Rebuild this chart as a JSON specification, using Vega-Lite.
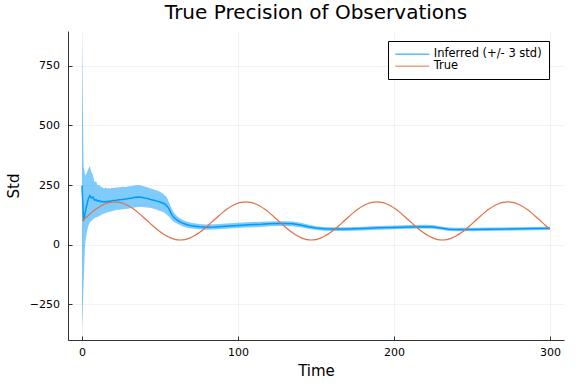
{
  "$schema": "https://vega.github.io/schema/vega-lite/v6.json",
  "width": 496,
  "height": 309,
  "autosize": {"type": "none"},
  "padding": {"left": 68, "top": 31, "right": 12, "bottom": 44},
  "background": "white",
  "title": {
    "text": "True Precision of Observations",
    "anchor": "middle",
    "frame": "group",
    "font": "DejaVu Sans",
    "fontSize": 20,
    "fontWeight": "normal",
    "color": "#000",
    "baseline": "bottom",
    "offset": 8,
    "dy": 20
  },
  "datasets": {
    "inferred": [
      {"t": 0, "mean": 248, "lo": -362, "hi": 858},
      {"t": 1, "mean": 100, "lo": -160, "hi": 330},
      {"t": 2, "mean": 135, "lo": 5, "hi": 290},
      {"t": 3, "mean": 165, "lo": 50, "hi": 300},
      {"t": 4, "mean": 192, "lo": 78, "hi": 318},
      {"t": 5, "mean": 206, "lo": 95, "hi": 330},
      {"t": 6, "mean": 196, "lo": 100, "hi": 305},
      {"t": 7, "mean": 200, "lo": 106, "hi": 292},
      {"t": 8, "mean": 187, "lo": 112, "hi": 262},
      {"t": 9, "mean": 189, "lo": 115, "hi": 266},
      {"t": 10, "mean": 183, "lo": 117, "hi": 250},
      {"t": 11, "mean": 185, "lo": 121, "hi": 252},
      {"t": 12, "mean": 180, "lo": 124, "hi": 243},
      {"t": 13, "mean": 182, "lo": 128, "hi": 241},
      {"t": 14, "mean": 179, "lo": 130, "hi": 236},
      {"t": 15, "mean": 181, "lo": 132, "hi": 240},
      {"t": 16, "mean": 180, "lo": 135, "hi": 236},
      {"t": 17, "mean": 183, "lo": 137, "hi": 238},
      {"t": 18, "mean": 182, "lo": 139, "hi": 235},
      {"t": 19, "mean": 185, "lo": 141, "hi": 239},
      {"t": 20, "mean": 186, "lo": 143, "hi": 238},
      {"t": 22, "mean": 187, "lo": 146, "hi": 240},
      {"t": 24, "mean": 189, "lo": 147, "hi": 241},
      {"t": 26, "mean": 190, "lo": 149, "hi": 243},
      {"t": 28, "mean": 192, "lo": 150, "hi": 242},
      {"t": 30, "mean": 194, "lo": 152, "hi": 245},
      {"t": 32, "mean": 196, "lo": 154, "hi": 246},
      {"t": 34, "mean": 199, "lo": 156, "hi": 250},
      {"t": 36, "mean": 200, "lo": 158, "hi": 251},
      {"t": 38, "mean": 199, "lo": 158, "hi": 249},
      {"t": 40, "mean": 196, "lo": 157, "hi": 244},
      {"t": 42, "mean": 194, "lo": 156, "hi": 241},
      {"t": 44, "mean": 190, "lo": 154, "hi": 236},
      {"t": 46, "mean": 187, "lo": 151, "hi": 232},
      {"t": 48, "mean": 183, "lo": 147, "hi": 228},
      {"t": 50, "mean": 179, "lo": 142, "hi": 222},
      {"t": 52, "mean": 174, "lo": 137, "hi": 214},
      {"t": 53, "mean": 171, "lo": 133, "hi": 208},
      {"t": 54, "mean": 166, "lo": 128, "hi": 202},
      {"t": 55, "mean": 158, "lo": 122, "hi": 190},
      {"t": 56, "mean": 147, "lo": 116, "hi": 174},
      {"t": 57, "mean": 133, "lo": 108, "hi": 158},
      {"t": 58, "mean": 122, "lo": 101, "hi": 145},
      {"t": 59, "mean": 114, "lo": 96, "hi": 134},
      {"t": 60, "mean": 108, "lo": 92, "hi": 126},
      {"t": 62, "mean": 99, "lo": 85, "hi": 114},
      {"t": 64, "mean": 92, "lo": 79, "hi": 106},
      {"t": 66, "mean": 87, "lo": 74, "hi": 100},
      {"t": 68, "mean": 83, "lo": 70, "hi": 96},
      {"t": 70, "mean": 80, "lo": 68, "hi": 92},
      {"t": 75, "mean": 76, "lo": 65, "hi": 87},
      {"t": 80, "mean": 74, "lo": 63, "hi": 85},
      {"t": 85, "mean": 75, "lo": 64, "hi": 86},
      {"t": 90, "mean": 77, "lo": 66, "hi": 88},
      {"t": 95, "mean": 79, "lo": 68, "hi": 90},
      {"t": 100, "mean": 81, "lo": 70, "hi": 92},
      {"t": 105, "mean": 83, "lo": 72, "hi": 94},
      {"t": 110, "mean": 85, "lo": 74, "hi": 96},
      {"t": 115, "mean": 86, "lo": 75, "hi": 97},
      {"t": 120, "mean": 88, "lo": 78, "hi": 98},
      {"t": 125, "mean": 89, "lo": 79, "hi": 99},
      {"t": 130, "mean": 89, "lo": 79, "hi": 99},
      {"t": 135, "mean": 88, "lo": 78, "hi": 98},
      {"t": 140, "mean": 83, "lo": 74, "hi": 92},
      {"t": 145, "mean": 76, "lo": 67, "hi": 85},
      {"t": 150, "mean": 70, "lo": 62, "hi": 78},
      {"t": 155, "mean": 67, "lo": 59, "hi": 75},
      {"t": 160, "mean": 66, "lo": 58, "hi": 74},
      {"t": 165, "mean": 66, "lo": 58, "hi": 74},
      {"t": 170, "mean": 66, "lo": 58, "hi": 74},
      {"t": 180, "mean": 68, "lo": 60, "hi": 76},
      {"t": 190, "mean": 71, "lo": 63, "hi": 79},
      {"t": 200, "mean": 73, "lo": 65, "hi": 81},
      {"t": 210, "mean": 75, "lo": 67, "hi": 83},
      {"t": 220, "mean": 76, "lo": 68, "hi": 84},
      {"t": 225, "mean": 75, "lo": 67, "hi": 83},
      {"t": 230, "mean": 70, "lo": 63, "hi": 77},
      {"t": 235, "mean": 65, "lo": 58, "hi": 72},
      {"t": 240, "mean": 64, "lo": 57, "hi": 71},
      {"t": 250, "mean": 64, "lo": 57, "hi": 71},
      {"t": 260, "mean": 65, "lo": 58, "hi": 72},
      {"t": 270, "mean": 66, "lo": 59, "hi": 73},
      {"t": 280, "mean": 67, "lo": 60, "hi": 74},
      {"t": 290, "mean": 68, "lo": 61, "hi": 75},
      {"t": 300, "mean": 69, "lo": 62, "hi": 76}
    ],
    "truth": [
      {"t": 0, "v": 100}, {"t": 3, "v": 117.8}, {"t": 6, "v": 134.7}, {"t": 9, "v": 149.9},
      {"t": 12, "v": 162.5}, {"t": 15, "v": 172.1}, {"t": 18, "v": 178}, {"t": 21, "v": 180},
      {"t": 24, "v": 178}, {"t": 27, "v": 172.1}, {"t": 30, "v": 162.5}, {"t": 33, "v": 149.9},
      {"t": 36, "v": 134.7}, {"t": 39, "v": 117.8}, {"t": 42, "v": 100}, {"t": 45, "v": 82.2},
      {"t": 48, "v": 65.3}, {"t": 51, "v": 50.1}, {"t": 54, "v": 37.5}, {"t": 57, "v": 27.9},
      {"t": 60, "v": 22}, {"t": 63, "v": 20}, {"t": 66, "v": 22}, {"t": 69, "v": 27.9},
      {"t": 72, "v": 37.5}, {"t": 75, "v": 50.1}, {"t": 78, "v": 65.3}, {"t": 81, "v": 82.2},
      {"t": 84, "v": 100}, {"t": 87, "v": 117.8}, {"t": 90, "v": 134.7}, {"t": 93, "v": 149.9},
      {"t": 96, "v": 162.5}, {"t": 99, "v": 172.1}, {"t": 102, "v": 178}, {"t": 105, "v": 180},
      {"t": 108, "v": 178}, {"t": 111, "v": 172.1}, {"t": 114, "v": 162.5}, {"t": 117, "v": 149.9},
      {"t": 120, "v": 134.7}, {"t": 123, "v": 117.8}, {"t": 126, "v": 100}, {"t": 129, "v": 82.2},
      {"t": 132, "v": 65.3}, {"t": 135, "v": 50.1}, {"t": 138, "v": 37.5}, {"t": 141, "v": 27.9},
      {"t": 144, "v": 22}, {"t": 147, "v": 20}, {"t": 150, "v": 22}, {"t": 153, "v": 27.9},
      {"t": 156, "v": 37.5}, {"t": 159, "v": 50.1}, {"t": 162, "v": 65.3}, {"t": 165, "v": 82.2},
      {"t": 168, "v": 100}, {"t": 171, "v": 117.8}, {"t": 174, "v": 134.7}, {"t": 177, "v": 149.9},
      {"t": 180, "v": 162.5}, {"t": 183, "v": 172.1}, {"t": 186, "v": 178}, {"t": 189, "v": 180},
      {"t": 192, "v": 178}, {"t": 195, "v": 172.1}, {"t": 198, "v": 162.5}, {"t": 201, "v": 149.9},
      {"t": 204, "v": 134.7}, {"t": 207, "v": 117.8}, {"t": 210, "v": 100}, {"t": 213, "v": 82.2},
      {"t": 216, "v": 65.3}, {"t": 219, "v": 50.1}, {"t": 222, "v": 37.5}, {"t": 225, "v": 27.9},
      {"t": 228, "v": 22}, {"t": 231, "v": 20}, {"t": 234, "v": 22}, {"t": 237, "v": 27.9},
      {"t": 240, "v": 37.5}, {"t": 243, "v": 50.1}, {"t": 246, "v": 65.3}, {"t": 249, "v": 82.2},
      {"t": 252, "v": 100}, {"t": 255, "v": 117.8}, {"t": 258, "v": 134.7}, {"t": 261, "v": 149.9},
      {"t": 264, "v": 162.5}, {"t": 267, "v": 172.1}, {"t": 270, "v": 178}, {"t": 273, "v": 180},
      {"t": 276, "v": 178}, {"t": 279, "v": 172.1}, {"t": 282, "v": 162.5}, {"t": 285, "v": 149.9},
      {"t": 288, "v": 134.7}, {"t": 291, "v": 117.8}, {"t": 294, "v": 100}, {"t": 297, "v": 82.2},
      {"t": 300, "v": 65.3}
    ]
  },
  "layer": [
    {
      "data": {"name": "inferred"},
      "mark": {"type": "area", "color": "#009AFA", "opacity": 0.5, "clip": true},
      "encoding": {
        "x": {"field": "t", "type": "quantitative", "scale": {"domain": [-9, 309], "nice": false, "zero": false}, "axis": {"title": "Time", "values": [0, 100, 200, 300]}},
        "y": {"field": "lo", "type": "quantitative", "scale": {"domain": [-399, 896], "nice": false, "zero": false}, "axis": {"title": "Std", "values": [-250, 0, 250, 500, 750]}},
        "y2": {"field": "hi"}
      }
    },
    {
      "data": {"name": "inferred"},
      "mark": {"type": "line", "strokeWidth": 1.5, "clip": true},
      "encoding": {
        "x": {"field": "t", "type": "quantitative", "axis": {"title": "Time", "values": [0, 100, 200, 300]}},
        "y": {"field": "mean", "type": "quantitative", "axis": {"title": "Std", "values": [-250, 0, 250, 500, 750]}},
        "color": {
          "datum": "Inferred (+/- 3 std)",
          "type": "nominal",
          "scale": {"domain": ["Inferred (+/- 3 std)", "True"], "range": ["#009AFA", "#E26F46"]},
          "legend": {"title": null}
        }
      }
    },
    {
      "data": {"name": "truth"},
      "mark": {"type": "line", "strokeWidth": 1.2, "interpolate": "monotone", "clip": true},
      "encoding": {
        "x": {"field": "t", "type": "quantitative", "axis": {"title": "Time", "values": [0, 100, 200, 300]}},
        "y": {"field": "v", "type": "quantitative", "axis": {"title": "Std", "values": [-250, 0, 250, 500, 750]}},
        "color": {"datum": "True", "type": "nominal"}
      }
    }
  ],
  "config": {
    "font": "DejaVu Sans",
    "view": {"stroke": null},
    "axis": {
      "labelFont": "DejaVu Sans",
      "labelFontSize": 11,
      "labelColor": "#000",
      "titleFont": "DejaVu Sans",
      "titleFontSize": 15,
      "titleFontWeight": "normal",
      "titleColor": "#000",
      "domainColor": "#333",
      "domainWidth": 1,
      "tickColor": "#333",
      "tickWidth": 1,
      "tickSize": -4,
      "grid": true,
      "gridColor": "#000",
      "gridOpacity": 0.1,
      "gridWidth": 0.5
    },
    "axisX": {
      "labelPadding": 10,
      "titleX": 248,
      "titleY": 35,
      "titleAlign": "center",
      "titleBaseline": "alphabetic"
    },
    "axisY": {
      "labelPadding": 12.5,
      "titleX": -50,
      "titleY": 154.5,
      "titleAngle": 270,
      "titleAlign": "center",
      "titleBaseline": "alphabetic"
    },
    "legend": {
      "orient": "none",
      "legendX": 320,
      "legendY": 10,
      "strokeColor": "#000",
      "strokeWidth": 1,
      "fillColor": "#fff",
      "padding": 7.25,
      "labelFont": "DejaVu Sans",
      "labelFontSize": 11.5,
      "labelColor": "#000",
      "labelOffset": 15.5,
      "rowPadding": 0,
      "symbolType": "M-3.4,0H3.4",
      "symbolSize": 100,
      "symbolOffset": 11,
      "symbolStrokeWidth": 1.5,
      "symbolOpacity": 0.65
    }
  }
}
